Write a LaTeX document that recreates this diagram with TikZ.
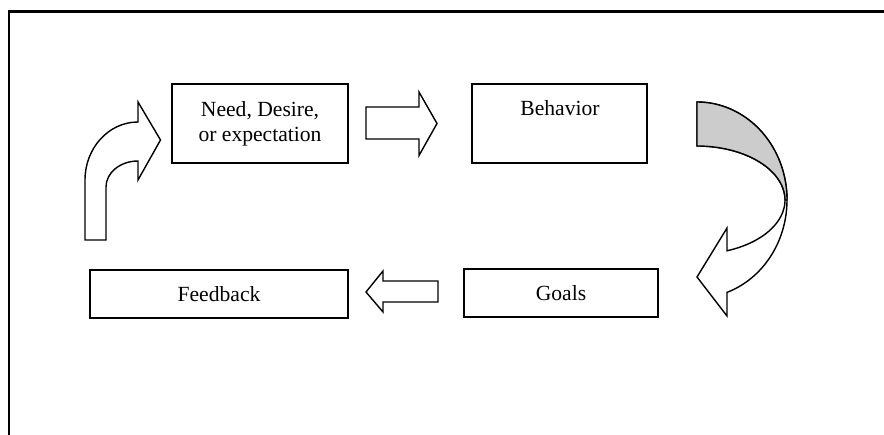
\documentclass[tikz,border=0pt]{standalone}
\usepackage{fontspec}
\setmainfont{Liberation Serif}
\begin{document}
\begin{tikzpicture}[x=0.02cm,y=-0.02cm,
		box/.style={draw,line width=0.9pt,align=center,inner sep=0pt,font=\fontsize{12.3}{14.2}\selectfont},
		blockarrow/.style={draw,fill=white,line width=0.8pt,line join=miter},
		txt/.style={inner sep=0pt,font=\fontsize{12.3}{14.2}\selectfont}]
			\useasboundingbox (0,0) rectangle (884,435);
			\draw [line width=1.4pt] (884,11.5) -- (9,11.5) -- (9,435);
			% boxes
			\node [box,minimum width=3.52cm,minimum height=1.58cm] (need) at (260,123.5) {Need, Desire,\\or expectation};
			\node [box,minimum width=3.5cm,minimum height=1.58cm] (behav) at (559.5,123.5) {};
			\node [txt] (behavtxt) at (560,108) {Behavior};
			\node [box,minimum width=3.88cm,minimum height=0.96cm] (goals) at (561,293) {Goals};
			\node [box,minimum width=5.16cm,minimum height=0.96cm] (feedbk) at (219,294) {Feedback};
			% straight block arrows
			\draw [blockarrow] (366,107) -- (419,107) -- (419,92) -- (437,123.5) -- (419,155.5) -- (419,139) -- (366,139) -- cycle;
			\draw [blockarrow] (438,281) -- (383,281) -- (383,271) -- (366,292) -- (383,312) -- (383,302) -- (438,302) -- cycle;
			% bent arrow into need
			\draw [blockarrow] (85,240) -- (85,180) .. controls (85,148) and (108.7,122) .. (138,122) -- (138,102) -- (160.5,140)
				-- (138,180) -- (138,161) .. controls (120.3,161) and (106,172.6) .. (106,187) -- (106,240) -- cycle;
			% curved arrow from behavior down to goals
			\draw [blockarrow] plot [domain=-90:70.53,samples=60] ({697+90*cos(\x)},{200+98*sin(\x)})
				-- (727,316) -- (697,277) -- (727,228)
				-- plot [domain=-90:70.06,samples=60] ({697+88*cos(-19.94-\x)},{200+54*sin(-19.94-\x)}) -- cycle;
			\filldraw [blockarrow,fill=black!20] plot [domain=-90:0,samples=40] ({697+90*cos(\x)},{200+98*sin(\x)})
				-- plot [domain=-90:0,samples=40] ({697+88*cos(-90-\x)},{200+54*sin(-90-\x)}) -- cycle;
		\end{tikzpicture}
\end{document}
